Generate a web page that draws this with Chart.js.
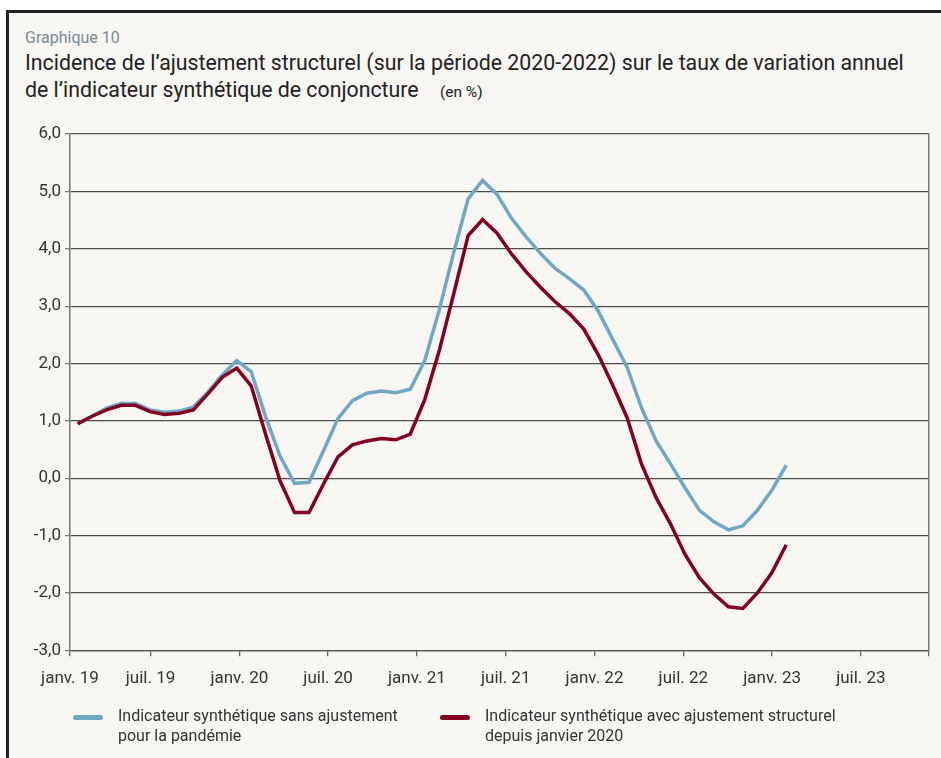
<!DOCTYPE html>
<html>
<head>
<meta charset="utf-8">
<script src="https://cdn.jsdelivr.net/npm/chart.js@4"></script>
<style>
  body { margin: 0; background: #fff; width: 941px; height: 758px; overflow: hidden; position: relative; font-family: Roboto, sans-serif; }
  #frame { position: absolute; left: 6px; top: 10px; right: -10px; bottom: -10px; border-top: 3px solid #222; border-left: 3px solid #222; background: #f7f6f2; }
  #myChart { position: absolute; left: 0; top: 0; }
  .sup { position: absolute; left: 25px; top: 28px; font-size: 16px; color: #7a8a95; }
  .title { position: absolute; left: 25px; top: 49px; font-size: 21.3px; line-height: 27px; color: #222; white-space: nowrap; }
  .title small { font-size: 15.5px; margin-left: 16px; }
  .leg { position: absolute; top: 706px; font-size: 16px; line-height: 20px; color: #333; }
  .sw { position: absolute; top: 715px; width: 30px; height: 5px; border-radius: 3px; }
</style>
</head>
<body>
<div id="frame"></div>
<div class="sup">Graphique 10</div>
<div class="title">Incidence de l’ajustement structurel (sur la période 2020-2022) sur le taux de variation annuel<br>de l’indicateur synthétique de conjoncture <small>(en %)</small></div>
<canvas id="myChart" width="941" height="758"></canvas>
<div class="sw" style="left:73px;background:#6fa7c5"></div>
<div class="leg" style="left:118px">Indicateur synthétique sans ajustement<br>pour la pandémie</div>
<div class="sw" style="left:440px;background:#85001f"></div>
<div class="leg" style="left:485px">Indicateur synthétique avec ajustement structurel<br>depuis janvier 2020</div>
<script>
// taux de variation annuel, un point par mois
const sansAjustement = [
  0.95, 1.08, 1.22, 1.30, 1.30, 1.19, 1.15, 1.17, 1.24, 1.50,
  1.80, 2.05, 1.86, 1.07, 0.38, -0.09, -0.07, 0.48, 1.04, 1.35,
  1.48, 1.52, 1.49, 1.55, 2.05, 2.93, 3.93, 4.87, 5.19, 4.95,
  4.53, 4.21, 3.92, 3.66, 3.48, 3.28, 2.91, 2.42, 1.93, 1.22,
  0.65, 0.25, -0.17, -0.56, -0.76, -0.90, -0.83, -0.56, -0.21, 0.23
];
const avecAjustement = [
  0.95, 1.08, 1.19, 1.27, 1.27, 1.16, 1.11, 1.13, 1.19, 1.47,
  1.76, 1.92, 1.61, 0.76, -0.05, -0.60, -0.60, -0.10, 0.37, 0.58,
  0.65, 0.69, 0.67, 0.77, 1.37, 2.22, 3.21, 4.23, 4.51, 4.27,
  3.91, 3.60, 3.33, 3.08, 2.87, 2.60, 2.15, 1.62, 1.05, 0.24,
  -0.34, -0.80, -1.33, -1.74, -2.02, -2.24, -2.27, -2.00, -1.65, -1.16
];
const tickLabels = ['janv. 19', 'juil. 19', 'janv. 20', 'juil. 20', 'janv. 21', 'juil. 21',
                    'janv. 22', 'juil. 22', 'janv. 23', 'juil. 23'];
const tickMonths = [0, 6, 12, 18, 24, 30, 36, 42, 48, 54];

const calMin = 0.56, calMax = 58.6;

const toPoints = arr => arr.map((v, i) => ({ x: i, y: v }));

const ctx = document.getElementById('myChart').getContext('2d');
new Chart(ctx, {
  type: 'line',
  data: {
    datasets: [{
      label: 'Indicateur synthétique avec ajustement structurel depuis janvier 2020',
      data: toPoints(avecAjustement),
      borderColor: '#85001f',
      borderWidth: 3.5,
      pointRadius: 0,
      tension: 0,
      xAxisID: 'x',
      yAxisID: 'y'
    }, {
      label: 'Indicateur synthétique sans ajustement pour la pandémie',
      data: toPoints(sansAjustement),
      borderColor: '#6fa7c5',
      borderWidth: 3.5,
      pointRadius: 0,
      tension: 0,
      xAxisID: 'x',
      yAxisID: 'y'
    }]
  },
  options: {
    responsive: false,
    animation: false,
    layout: { padding: { left: 8, top: 134, right: 10.3, bottom: 67.7 } },
    plugins: { legend: { display: false }, tooltip: { enabled: false } },
    scales: {
      x: { type: 'linear', display: false, min: -0.53, max: 58.87 },
      xt: {
        type: 'linear',
        position: 'bottom',
        min: calMin,
        max: calMax,
        afterBuildTicks: scale => {
          const vals = tickMonths.map(m => Math.max(m, calMin));
          vals.push(calMax);
          scale.ticks = vals.map(v => ({ value: v }));
        },
        afterFit: scale => { scale.height = 40; },
        ticks: {
          autoSkip: false,
          maxRotation: 0,
          padding: 12,
          color: '#333',
          font: { family: 'Roboto', size: 17 },
          callback: (v, i) => tickLabels[i] || ''
        },
        grid: { drawOnChartArea: false, tickLength: 6, color: '#666', lineWidth: 1.3 },
        border: { display: true, color: '#555', width: 1.3 }
      },
      y: {
        min: -3,
        max: 6,
        afterFit: scale => { scale.width = 62; },
        ticks: {
          stepSize: 1,
          padding: 4,
          color: '#333',
          font: { family: 'Roboto', size: 17 },
          callback: v => v.toFixed(1).replace('.', ',')
        },
        grid: { color: '#4d4d4d', lineWidth: 1.2, tickLength: 5, tickColor: '#777' },
        border: { color: '#777', width: 1.5 }
      },
      y2: {
        position: 'right',
        min: -3,
        max: 6,
        afterFit: scale => { scale.width = 0; },
        ticks: { display: false },
        grid: { display: false },
        border: { display: true, color: '#777', width: 1.5 }
      }
    }
  }
});
</script>
</body>
</html>
